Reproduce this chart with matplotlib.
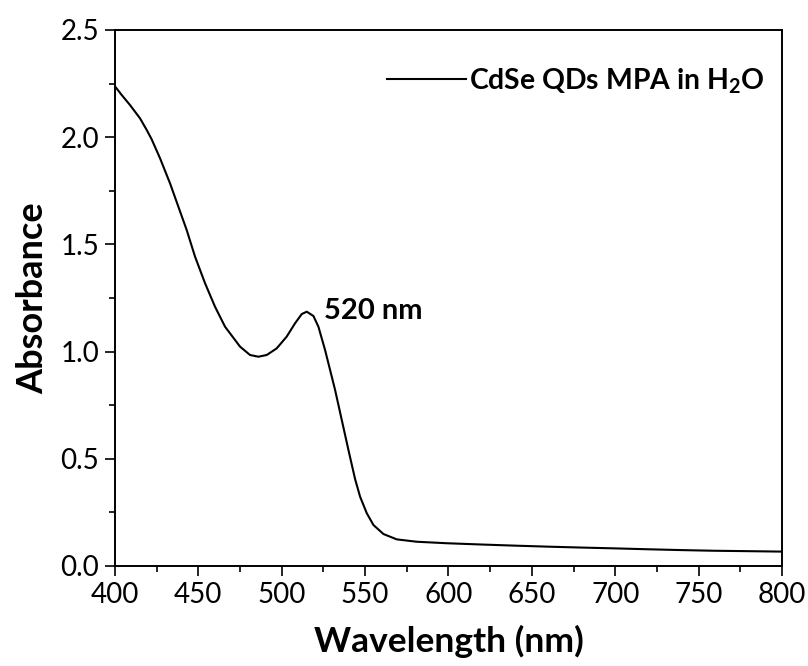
import matplotlib
matplotlib.use('Agg')
import matplotlib.pyplot as plt
from matplotlib.ticker import MultipleLocator, FormatStrFormatter

plt.rcParams['font.family'] = ['Lato', 'DejaVu Sans']
plt.rcParams['mathtext.fontset'] = 'custom'
plt.rcParams['mathtext.rm'] = 'Lato'
plt.rcParams['mathtext.bf'] = 'Lato:bold'

# values
wavelength = [400, 404, 409, 415, 419, 422, 427, 433, 438, 443, 448, 454, 460, 466,
              469, 475, 481, 486, 491, 497, 503, 508, 512, 515, 519, 522, 526, 529,
              532, 536, 540, 544, 547, 551, 555, 561, 569, 581, 599, 620, 639, 660,
              679, 700, 719, 740, 759, 780, 800]
absorbance = [2.237, 2.197, 2.150, 2.088, 2.034, 1.990, 1.902, 1.785, 1.676, 1.567,
              1.443, 1.319, 1.209, 1.116, 1.085, 1.023, 0.984, 0.976, 0.984, 1.015,
              1.070, 1.132, 1.175, 1.186, 1.166, 1.116, 1.007, 0.914, 0.821, 0.681,
              0.541, 0.405, 0.323, 0.246, 0.191, 0.149, 0.124, 0.113, 0.106, 0.100,
              0.095, 0.090, 0.086, 0.082, 0.078, 0.074, 0.071, 0.069, 0.067]

peak_label = '520 nm'
series_label = r'CdSe QDs MPA in H$_\mathbf{2}$O'

fig = plt.figure(figsize=(8.08, 6.66), dpi=100)
ax = fig.add_axes([0.1423, 0.1502, 0.8255, 0.8048])

ax.plot(wavelength, absorbance, color='black', lw=1.5, label=series_label)
ax.text(525.5, 1.19, peak_label, fontsize=21, fontweight='bold', va='center', ha='left')

ax.set_xlim(400, 800)
ax.set_ylim(0, 2.5)
ax.xaxis.set_major_locator(MultipleLocator(50))
ax.xaxis.set_minor_locator(MultipleLocator(25))
ax.yaxis.set_major_locator(MultipleLocator(0.5))
ax.yaxis.set_minor_locator(MultipleLocator(0.25))
ax.yaxis.set_major_formatter(FormatStrFormatter('%.1f'))

ax.tick_params(which='major', direction='out', length=7.5, width=1.2, labelsize=20, pad=4)
ax.tick_params(which='minor', direction='out', length=4.5, width=1.2)
for s in ax.spines.values():
    s.set_linewidth(1.4)

ax.set_xlabel('Wavelength (nm)', fontsize=25.5, fontweight='bold', labelpad=12)
ax.set_ylabel('Absorbance', fontsize=26, fontweight='bold', labelpad=8)

leg = ax.legend(loc='center right', bbox_to_anchor=(0.9745, 0.905), frameon=False,
                handlelength=2.77, handletextpad=0.12, borderpad=0, borderaxespad=0,
                prop={'size': 20.4, 'weight': 'bold'})

fig.savefig('out.png', dpi=100)
